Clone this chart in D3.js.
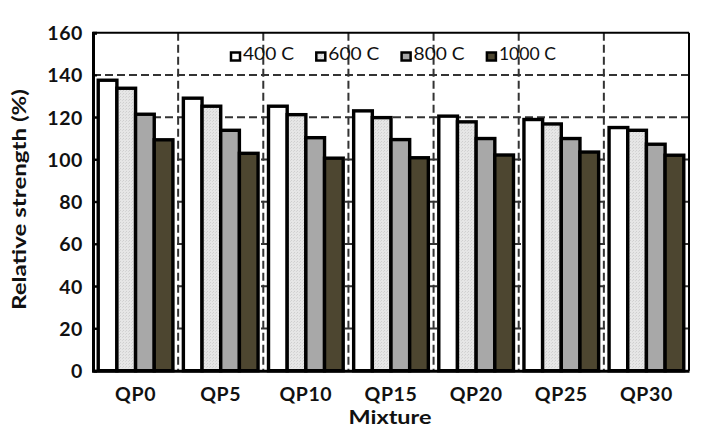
<!DOCTYPE html>
<html><head><meta charset="utf-8">
<script src="https://cdn.jsdelivr.net/npm/d3@7"></script>
<style>body{margin:0;background:#fff}svg{display:block}</style>
</head><body>
<svg id="c" width="720" height="436"></svg>
<script>
const categories = ["QP0","QP5","QP10","QP15","QP20","QP25","QP30"];
const seriesNames = ["400 C","600 C","800 C","1000 C"];
const s400  = [137.5,129.0,125.2,123.0,120.5,118.9,115.1];
const s600  = [133.7,125.2,121.2,119.8,117.8,116.8,113.8];
const s800  = [121.4,113.8,110.3,109.4,109.9,109.9,107.2];
const s1000 = [109.3,102.9,100.6,100.8,102.1,103.5,102.0];
const yTicks = [0,20,40,60,80,100,120,140,160];
const colors = ["#ffffff","url(#stip)","#a8a8a8","#4d4630"];
const seriesVals = [s400,s600,s800,s1000];

const svg = d3.select("#c");
const L=93, R=689, T=32.7, B=370.7;
const defs = svg.append("defs");
const pat = defs.append("pattern").attr("id","stip").attr("patternUnits","userSpaceOnUse").attr("width",3).attr("height",3);
pat.append("rect").attr("width",3).attr("height",3).attr("fill","#e6e6e6");
pat.append("rect").attr("x",0).attr("y",0).attr("width",1).attr("height",1).attr("fill","#cfcfcf");
pat.append("rect").attr("x",2).attr("y",1).attr("width",1).attr("height",1).attr("fill","#d6d6d6");

const y = d3.scaleLinear().domain([0,160]).range([B,T]);
const x0 = d3.scaleBand().domain(categories).range([L,R]).padding(0);
const x1 = d3.scaleBand().domain(seriesNames).range([0,x0.bandwidth()]).paddingInner(0).paddingOuter(0.28);

// horizontal grid
svg.append("g").selectAll("line").data(yTicks.filter(d=>d>0&&d<160)).join("line")
  .attr("x1",L).attr("x2",R).attr("y1",d=>y(d)).attr("y2",d=>y(d))
  .attr("stroke","#333").attr("stroke-width",2).attr("stroke-dasharray","8,4");
// vertical grid
svg.append("g").selectAll("line").data(categories.slice(1)).join("line")
  .attr("x1",d=>x0(d)).attr("x2",d=>x0(d)).attr("y1",T).attr("y2",B)
  .attr("stroke","#333").attr("stroke-width",2).attr("stroke-dasharray","8,4");

// bars
const g = svg.append("g");
categories.forEach((c,ci)=>{
  seriesNames.forEach((s,si)=>{
    const v = seriesVals[si][ci];
    g.append("rect").attr("x",x0(c)+x1(s)).attr("width",x1.bandwidth())
     .attr("y",y(v)).attr("height",y(0)-y(v))
     .attr("fill",colors[si]).attr("stroke","#000").attr("stroke-width",3.4);
  });
});

// frame
svg.append("line").attr("x1",L).attr("x2",R).attr("y1",T).attr("y2",T).attr("stroke","#000").attr("stroke-width",2);
svg.append("line").attr("x1",R).attr("x2",R).attr("y1",T).attr("y2",B).attr("stroke","#000").attr("stroke-width",2);

// left axis
const ya = svg.append("g").attr("transform",`translate(${L},0)`)
  .call(d3.axisLeft(y).tickValues(yTicks).tickSize(-4).tickPadding(10));
ya.select(".domain").attr("stroke","#000").attr("stroke-width",3);
ya.selectAll(".tick line").attr("stroke","#000").attr("stroke-width",2);
ya.selectAll("text").attr("font-family","Lato").attr("font-weight","bold").attr("font-size",19.5)
  .attr("letter-spacing","0.6px").attr("fill","#111").attr("dy","0.36em");

// bottom axis
const xa = svg.append("g").attr("transform",`translate(0,${B})`)
  .call(d3.axisBottom(x0).tickSize(0).tickPadding(10));
xa.select(".domain").attr("stroke","#000").attr("stroke-width",3);
xa.selectAll("text").attr("font-family","Lato").attr("font-weight","bold").attr("font-size",19.5)
  .attr("letter-spacing","0.6px").attr("fill","#111").attr("dy","0").attr("y",30);

// titles
svg.append("text").attr("x",390).attr("y",424.3).attr("text-anchor","middle")
  .attr("font-family","Lato").attr("font-weight","bold").attr("font-size",19.5).attr("fill","#111")
  .attr("textLength",83).attr("lengthAdjust","spacingAndGlyphs").text("Mixture");
svg.append("text").attr("transform","translate(26,199.5) rotate(-90)").attr("text-anchor","middle")
  .attr("font-family","Lato").attr("font-weight","bold").attr("font-size",18.5).attr("fill","#111")
  .attr("textLength",221).attr("lengthAdjust","spacingAndGlyphs").text("Relative strength (%)");

// legend
const lg = svg.append("g");
seriesNames.forEach((s,i)=>{
  const lx = 230 + i*85.3;
  lg.append("rect").attr("x",lx+1).attr("y",52.5).attr("width",9).attr("height",8)
    .attr("fill",colors[i]).attr("stroke","#000").attr("stroke-width",2.5);
  lg.append("text").attr("x",lx+13).attr("y",60.3).attr("font-family","Lato").attr("font-size",17.5).attr("fill","#111")
    .attr("textLength", s.length===6?57:51).attr("lengthAdjust","spacingAndGlyphs").text(s);
});
</script>
</body></html>
